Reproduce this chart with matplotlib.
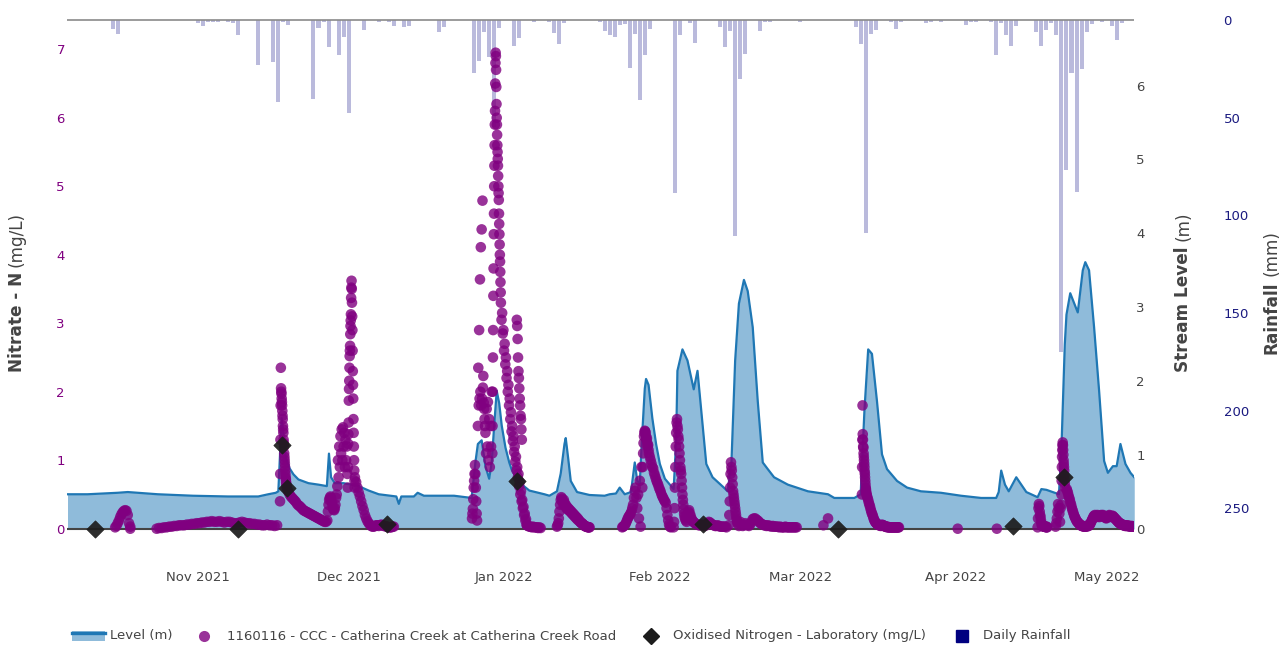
import matplotlib
matplotlib.use("Agg")
import matplotlib.pyplot as plt
import matplotlib.dates as mdates
import matplotlib.ticker as mticker
import numpy as np
import pandas as pd
from matplotlib.lines import Line2D
from matplotlib.patches import Rectangle

plt.rcParams['font.family'] = ['DejaVu Sans']

# ---------------- data ----------------
level_times = [
    "2021-10-06 00:00", "2021-10-10 00:00", "2021-10-16 00:00", "2021-10-18 00:00", "2021-10-24 00:00",
    "2021-10-31 00:00", "2021-11-07 00:00", "2021-11-13 00:00", "2021-11-15 00:00", "2021-11-16 12:00",
    "2021-11-17 00:00", "2021-11-17 08:00", "2021-11-17 16:00", "2021-11-18 02:00", "2021-11-18 12:00",
    "2021-11-19 06:00", "2021-11-20 00:00", "2021-11-21 00:00", "2021-11-23 00:00", "2021-11-25 00:00",
    "2021-11-26 16:00", "2021-11-27 02:00", "2021-11-27 12:00", "2021-11-28 06:00", "2021-11-30 00:00",
    "2021-12-03 00:00", "2021-12-05 00:00", "2021-12-07 00:00", "2021-12-10 12:00", "2021-12-11 00:00",
    "2021-12-11 12:00", "2021-12-14 00:00", "2021-12-14 18:00", "2021-12-16 00:00", "2021-12-22 00:00",
    "2021-12-25 12:00", "2021-12-26 06:00", "2021-12-26 18:00", "2021-12-27 12:00", "2021-12-28 06:00",
    "2021-12-29 00:00", "2021-12-29 12:00", "2021-12-30 00:00", "2021-12-30 12:00", "2021-12-31 00:00",
    "2021-12-31 12:00", "2022-01-01 06:00", "2022-01-02 00:00", "2022-01-02 12:00", "2022-01-04 00:00",
    "2022-01-06 00:00", "2022-01-09 00:00", "2022-01-10 00:00", "2022-01-11 12:00", "2022-01-12 06:00",
    "2022-01-13 00:00", "2022-01-13 06:00", "2022-01-13 18:00", "2022-01-14 06:00", "2022-01-15 12:00",
    "2022-01-18 00:00", "2022-01-21 00:00", "2022-01-22 00:00", "2022-01-23 06:00", "2022-01-24 00:00",
    "2022-01-25 00:00", "2022-01-26 06:00", "2022-01-27 00:00", "2022-01-27 12:00", "2022-01-28 00:00",
    "2022-01-28 12:00", "2022-01-29 00:00", "2022-01-29 06:00", "2022-01-29 18:00", "2022-01-30 12:00",
    "2022-01-31 06:00", "2022-02-01 00:00", "2022-02-02 00:00", "2022-02-03 00:00", "2022-02-03 18:00",
    "2022-02-04 06:00", "2022-02-04 12:00", "2022-02-05 12:00", "2022-02-06 12:00", "2022-02-07 18:00",
    "2022-02-08 12:00", "2022-02-09 06:00", "2022-02-10 06:00", "2022-02-11 12:00", "2022-02-13 18:00",
    "2022-02-14 12:00", "2022-02-15 06:00", "2022-02-16 00:00", "2022-02-16 18:00", "2022-02-17 18:00",
    "2022-02-18 12:00", "2022-02-19 12:00", "2022-02-20 12:00", "2022-02-21 12:00", "2022-02-22 12:00",
    "2022-02-23 18:00", "2022-02-26 12:00", "2022-03-02 12:00", "2022-03-06 12:00", "2022-03-07 18:00",
    "2022-03-11 18:00", "2022-03-13 00:00", "2022-03-13 18:00", "2022-03-14 12:00", "2022-03-15 06:00",
    "2022-03-16 06:00", "2022-03-17 06:00", "2022-03-18 06:00", "2022-03-20 06:00", "2022-03-22 06:00",
    "2022-03-25 00:00", "2022-03-29 00:00", "2022-04-02 00:00", "2022-04-06 00:00", "2022-04-09 00:00",
    "2022-04-09 12:00", "2022-04-10 00:00", "2022-04-10 18:00", "2022-04-11 12:00", "2022-04-13 00:00",
    "2022-04-15 00:00", "2022-04-17 06:00", "2022-04-18 00:00", "2022-04-19 00:00", "2022-04-21 12:00",
    "2022-04-22 00:00", "2022-04-22 16:00", "2022-04-23 00:00", "2022-04-23 18:00", "2022-04-25 06:00",
    "2022-04-26 06:00", "2022-04-26 18:00", "2022-04-27 12:00", "2022-04-28 12:00", "2022-04-29 12:00",
    "2022-04-30 12:00", "2022-05-01 06:00", "2022-05-02 06:00", "2022-05-03 00:00", "2022-05-03 18:00",
    "2022-05-04 18:00", "2022-05-05 18:00", "2022-05-06 12:00",
]
level_m = [
    0.47, 0.47, 0.49, 0.50, 0.47,
    0.45, 0.44, 0.44, 0.47, 0.49,
    0.51, 1.00, 1.50, 1.25, 0.95,
    0.82, 0.74, 0.67, 0.62, 0.60,
    0.58, 1.02, 0.70, 0.62, 0.62,
    0.58, 0.52, 0.47, 0.44, 0.34,
    0.44, 0.44, 0.49, 0.45, 0.45,
    0.42, 0.90, 1.15, 1.20, 0.85,
    0.68, 0.90, 1.40, 1.87, 1.70,
    1.40, 1.10, 0.90, 0.80, 0.63,
    0.52, 0.47, 0.45, 0.51, 0.75,
    1.15, 1.23, 0.95, 0.65, 0.50,
    0.46, 0.45, 0.47, 0.48, 0.56,
    0.47, 0.50, 0.90, 0.65, 0.62,
    1.30, 1.90, 2.03, 1.95, 1.50,
    1.15, 0.88, 0.68, 0.60, 0.54,
    1.20, 2.14, 2.43, 2.28, 1.89,
    2.14, 1.60, 0.88, 0.70, 0.56,
    0.51, 0.88, 2.28, 3.05, 3.37,
    3.22, 2.73, 1.73, 0.90, 0.81,
    0.70, 0.60, 0.51, 0.47, 0.42,
    0.42, 0.47, 1.60, 2.43, 2.37,
    1.73, 1.01, 0.81, 0.65, 0.56,
    0.51, 0.49, 0.45, 0.42, 0.42,
    0.50, 0.79, 0.60, 0.51, 0.70,
    0.50, 0.43, 0.54, 0.53, 0.47,
    1.10, 2.50, 2.90, 3.19, 2.93,
    3.50, 3.61, 3.50, 2.73, 1.87,
    0.92, 0.76, 0.85, 0.85, 1.15,
    0.88, 0.76, 0.70,
]

rain_dates = [
    "2021-10-15", "2021-10-16", "2021-11-01", "2021-11-02", "2021-11-03", "2021-11-04", "2021-11-05",
    "2021-11-07", "2021-11-08", "2021-11-09", "2021-11-13", "2021-11-16", "2021-11-17", "2021-11-18",
    "2021-11-19", "2021-11-24", "2021-11-25", "2021-11-26", "2021-11-27", "2021-11-29", "2021-11-30",
    "2021-12-01", "2021-12-04", "2021-12-07", "2021-12-09", "2021-12-10", "2021-12-12", "2021-12-13",
    "2021-12-19", "2021-12-20", "2021-12-26", "2021-12-27", "2021-12-28", "2021-12-29", "2021-12-30",
    "2021-12-31", "2022-01-03", "2022-01-04", "2022-01-07", "2022-01-10", "2022-01-11", "2022-01-12",
    "2022-01-13", "2022-01-20", "2022-01-21", "2022-01-22", "2022-01-23", "2022-01-24", "2022-01-25",
    "2022-01-26", "2022-01-27", "2022-01-28", "2022-01-29", "2022-01-30", "2022-02-04", "2022-02-05",
    "2022-02-07", "2022-02-08", "2022-02-13", "2022-02-14", "2022-02-15", "2022-02-16", "2022-02-17",
    "2022-02-18", "2022-02-21", "2022-02-22", "2022-02-23", "2022-03-01", "2022-03-12", "2022-03-13",
    "2022-03-14", "2022-03-15", "2022-03-16", "2022-03-19", "2022-03-20", "2022-03-21", "2022-03-26",
    "2022-03-27", "2022-03-29", "2022-04-03", "2022-04-04", "2022-04-05", "2022-04-08", "2022-04-09",
    "2022-04-10", "2022-04-11", "2022-04-12", "2022-04-13", "2022-04-17", "2022-04-18", "2022-04-19",
    "2022-04-20", "2022-04-21", "2022-04-22", "2022-04-23", "2022-04-24", "2022-04-25", "2022-04-26",
    "2022-04-27", "2022-04-28", "2022-04-30", "2022-05-02", "2022-05-03", "2022-05-04",
]
rain_mm = [
    4.6, 7.3, 1.5, 3.2, 1.0, 1.0, 1.0,
    1.0, 1.5, 7.8, 23.0, 21.3, 41.9, 1.0,
    2.5, 40.5, 4.0, 1.0, 13.8, 18.0, 8.5,
    47.7, 5.0, 1.0, 1.0, 3.2, 3.8, 3.2,
    6.0, 3.8, 27.3, 20.8, 5.9, 18.7, 55.0,
    4.0, 13.4, 9.0, 1.0, 1.0, 6.7, 12.5,
    1.5, 1.0, 5.4, 7.8, 8.5, 2.5, 2.0,
    24.5, 7.1, 41.0, 18.0, 4.6, 88.6, 7.5,
    1.8, 11.8, 3.4, 13.6, 5.7, 110.7, 30.0,
    17.6, 5.5, 1.0, 1.0, 1.0, 3.7, 12.3,
    109.0, 7.1, 5.1, 1.0, 4.5, 1.0, 1.5,
    1.0, 1.0, 2.8, 1.0, 1.0, 1.0, 17.8,
    1.5, 7.5, 13.2, 3.0, 6.2, 13.2, 5.1,
    1.5, 7.7, 170.0, 77.0, 27.0, 88.0, 25.0,
    6.2, 2.0, 1.0, 3.0, 10.4, 1.5,
]

lab_times = ["2021-10-11 12:00", "2021-11-08 22:00", "2021-11-17 17:00", "2021-11-18 17:00",
             "2021-12-08 15:00", "2022-01-03 12:00", "2022-02-09 12:00", "2022-03-08 12:00",
             "2022-04-12 10:00", "2022-04-22 10:00"]
lab_mgL = [0.0, 0.0, 1.22, 0.59, 0.07, 0.69, 0.07, 0.0, 0.04, 0.75]

# sensor nitrate readings: (first timestamp, hours between readings, readings)
nitrate_segments = [
    ("2021-10-15 12:00", 6, [0.02, 0.04, 0.08, 0.12, 0.17, 0.21, 0.24, 0.26, 0.27, 0.26, 0.20, 0.08, 0.03]),
    ("2021-10-18 12:00", 6, [0.0]),
    ("2021-10-23 18:00", 12, [0.00, 0.01, 0.01, 0.02, 0.02, 0.03, 0.03, 0.04, 0.04, 0.05,
                              0.05, 0.05, 0.06, 0.06, 0.07, 0.07, 0.08, 0.08, 0.09, 0.09,
                              0.10, 0.10, 0.11, 0.10, 0.10, 0.11, 0.10, 0.09, 0.10, 0.10,
                              0.09, 0.08, 0.08, 0.09, 0.10, 0.09, 0.08, 0.08, 0.07, 0.07,
                              0.06, 0.06, 0.05, 0.05, 0.06, 0.05, 0.05, 0.04, 0.05]),
    ("2021-11-17 08:00", 1, [0.40, 0.80, 1.30, 1.80, 2.35, 2.05, 2.00, 1.97, 1.90, 1.85, 1.80, 1.72,
                             1.65, 1.60, 1.50, 1.45, 1.40, 1.30, 1.25, 1.20, 1.10, 1.05, 1.00, 0.95,
                             0.90, 0.85, 0.80, 0.75, 0.72, 0.68, 0.65, 0.62]),
    ("2021-11-18 18:00", 6, [0.58, 0.54, 0.50, 0.47, 0.45, 0.43, 0.41, 0.39, 0.36, 0.34, 0.33, 0.31,
                             0.29, 0.27, 0.26, 0.25, 0.24, 0.23, 0.22, 0.21, 0.20, 0.19, 0.18, 0.17,
                             0.16, 0.15, 0.14, 0.13, 0.12, 0.11, 0.10, 0.10]),
    ("2021-11-26 18:00", 3, [0.12, 0.25, 0.35, 0.42, 0.45, 0.47, 0.45, 0.40, 0.35, 0.30, 0.28, 0.27,
                             0.30, 0.35, 0.45, 0.50, 0.62, 1.00, 0.75, 1.20, 0.90, 1.35, 1.10, 1.45,
                             1.00, 1.48, 1.20, 1.40, 0.90, 1.30, 1.00, 1.20, 0.80]),
    ("2021-11-30 20:00", 1, [0.60, 0.90, 1.24, 1.38, 1.55, 1.87, 2.04, 2.16, 2.35, 2.52, 2.60, 2.67,
                             2.84, 2.96, 3.04, 3.13, 3.37, 3.52, 3.62, 3.50, 3.30, 3.10, 2.90, 2.60,
                             2.30, 2.10, 1.90, 1.60, 1.40, 1.20, 1.00, 0.85, 0.70, 0.60]),
    ("2021-12-02 06:00", 6, [0.75, 0.68, 0.60, 0.53, 0.47, 0.40, 0.33, 0.27, 0.20, 0.15, 0.11, 0.08,
                             0.06, 0.04, 0.03, 0.03, 0.04, 0.05, 0.05, 0.04, 0.05, 0.06, 0.05, 0.04,
                             0.04, 0.03, 0.03, 0.02, 0.02, 0.02, 0.03, 0.03]),
    ("2021-12-25 14:00", 2, [0.15, 0.22, 0.29, 0.43, 0.60, 0.70, 0.80, 0.93, 0.80, 0.60, 0.40, 0.22, 0.12]),
    ("2021-12-26 18:00", 2, [1.50, 2.35, 1.80, 2.90, 1.90, 3.64, 2.00, 4.11, 1.80, 4.37, 1.90, 4.79,
                             2.06, 2.23, 1.84, 1.75, 1.60, 1.50]),
    ("2021-12-28 06:00", 3, [1.40, 1.10, 1.75, 1.20, 1.85, 1.00, 1.60, 0.90, 1.50, 1.20, 2.00, 1.10]),
    ("2021-12-29 16:00", 1, [1.50, 2.00, 2.50, 2.90, 3.40, 3.80, 4.30, 4.60, 5.00, 5.30, 5.60, 5.90,
                             6.10, 6.50, 6.80, 6.95, 6.90, 6.70, 6.45, 6.20, 6.00, 5.90, 5.75, 5.60,
                             5.50, 5.40, 5.30, 5.15, 5.00, 4.90, 4.80, 4.60, 4.45, 4.30, 4.15, 4.00,
                             3.90, 3.75, 3.60, 3.45]),
    ("2021-12-31 08:00", 3, [3.30, 3.05, 3.15, 2.85, 2.90, 2.60, 2.70, 2.40, 2.50, 2.20, 2.30, 2.00,
                             2.10, 1.80, 1.90, 1.60, 1.70, 1.42, 1.50, 1.28, 1.35, 1.12, 1.20, 0.98,
                             1.05, 0.85, 0.90, 0.75, 0.80, 0.62, 0.68, 0.50, 0.55, 0.40, 0.42, 0.30,
                             0.32, 0.20, 0.22, 0.12, 0.14, 0.06, 0.05]),
    ("2022-01-03 12:00", 2, [3.05, 2.96, 2.77, 2.50, 2.30, 2.20, 2.05, 1.90, 1.80, 1.65, 1.60, 1.45, 1.30]),
    ("2022-01-05 12:00", 6, [0.05, 0.04, 0.03, 0.03, 0.02, 0.03, 0.02, 0.02, 0.02, 0.01, 0.02, 0.01]),
    ("2022-01-11 12:00", 3, [0.03, 0.05, 0.08, 0.15, 0.25, 0.35, 0.42, 0.46, 0.44, 0.40, 0.36, 0.42,
                             0.38, 0.33, 0.35, 0.30, 0.32, 0.28, 0.30, 0.27, 0.28, 0.25, 0.26, 0.23,
                             0.24, 0.21, 0.22, 0.19, 0.20, 0.17, 0.18, 0.15, 0.16, 0.13, 0.14, 0.12,
                             0.11, 0.10, 0.09, 0.08, 0.08, 0.07, 0.06, 0.05, 0.04, 0.04, 0.03, 0.03,
                             0.03, 0.02, 0.02, 0.02, 0.02]),
    ("2022-01-24 12:00", 4, [0.02, 0.03, 0.04, 0.05, 0.07, 0.10, 0.13, 0.16, 0.18, 0.20, 0.22, 0.25,
                             0.30, 0.35, 0.45, 0.55, 0.60, 0.45, 0.30, 0.50, 0.15, 0.70, 0.03, 0.90]),
    ("2022-01-28 12:00", 2, [0.60, 0.90, 1.10, 1.25, 1.35, 1.40, 1.43, 1.42, 1.40, 1.35, 1.30, 1.32,
                             1.25, 1.20, 1.22, 1.15, 1.10]),
    ("2022-01-30 00:00", 4, [1.05, 1.00, 0.95, 0.90, 0.88, 0.82, 0.78, 0.74, 0.70, 0.67, 0.64, 0.60,
                             0.57, 0.54, 0.50, 0.47, 0.45, 0.42, 0.40, 0.38, 0.30, 0.20, 0.12, 0.06,
                             0.03, 0.02]),
    ("2022-02-03 18:00", 2, [0.02, 0.10, 0.30, 0.60, 0.90, 1.20, 1.40, 1.55, 1.60, 1.50, 1.45, 1.35,
                             1.30, 1.20, 1.10, 1.00, 0.90, 0.85, 0.80, 0.70, 0.60, 0.50, 0.42, 0.35,
                             0.28, 0.22, 0.18, 0.15]),
    ("2022-02-06 04:00", 4, [0.12, 0.10, 0.20, 0.25, 0.27, 0.22, 0.18, 0.14, 0.12, 0.10, 0.09, 0.08, 0.07]),
    ("2022-02-08 12:00", 6, [0.06, 0.05, 0.05, 0.06, 0.05, 0.05, 0.04, 0.06, 0.08, 0.10, 0.09, 0.07,
                             0.06, 0.05, 0.04, 0.04, 0.05, 0.04, 0.03, 0.03, 0.03, 0.03, 0.03, 0.02]),
    ("2022-02-14 18:00", 2, [0.05, 0.20, 0.40, 0.60, 0.80, 0.97, 0.90, 0.85, 0.75, 0.65, 0.55, 0.50,
                             0.45, 0.40, 0.35, 0.30, 0.25, 0.20, 0.15, 0.12, 0.10]),
    ("2022-02-16 12:00", 6, [0.08, 0.04, 0.10, 0.06, 0.04, 0.05, 0.08, 0.06, 0.05, 0.04, 0.06, 0.10,
                             0.14, 0.15, 0.15, 0.13, 0.12, 0.10, 0.08, 0.07, 0.06, 0.05, 0.05, 0.04,
                             0.05, 0.04, 0.04, 0.03, 0.04, 0.03, 0.03, 0.03, 0.03, 0.02, 0.03, 0.02,
                             0.02, 0.02, 0.03, 0.02, 0.02, 0.02, 0.02, 0.02, 0.02, 0.02, 0.02, 0.02]),
    ("2022-03-05 14:00", 22, [0.05, 0.15]),
    ("2022-03-13 06:00", 1, [0.50, 0.90, 1.30, 1.80, 1.38, 1.30, 1.20, 1.18, 1.10, 1.05, 1.00, 0.95,
                             0.90, 0.84, 0.80, 0.75, 0.70, 0.65, 0.60, 0.58, 0.55, 0.52, 0.50]),
    ("2022-03-14 06:00", 3, [0.48, 0.45, 0.42, 0.38, 0.35, 0.32, 0.28, 0.25, 0.22, 0.20, 0.17, 0.14,
                             0.12, 0.10, 0.09, 0.08, 0.07, 0.06, 0.06, 0.05, 0.05, 0.05, 0.04, 0.05,
                             0.06, 0.05, 0.05, 0.04, 0.04, 0.03, 0.03, 0.03, 0.02, 0.03, 0.02, 0.02,
                             0.02, 0.02, 0.02, 0.02, 0.02, 0.02, 0.02, 0.02, 0.02, 0.02, 0.02, 0.02,
                             0.02, 0.02, 0.02, 0.02]),
    ("2022-04-01 08:00", 6, [0.0]),
    ("2022-04-09 03:00", 6, [0.0]),
    ("2022-04-17 06:00", 2, [0.02, 0.15, 0.30, 0.36, 0.33, 0.25, 0.20, 0.17, 0.12, 0.08, 0.05, 0.04,
                             0.05, 0.04, 0.03, 0.03, 0.04, 0.03, 0.03, 0.03, 0.02, 0.02, 0.03, 0.02]),
    ("2022-04-20 20:00", 3, [0.03, 0.08, 0.15, 0.25, 0.36, 0.30, 0.22, 0.10, 0.30, 0.35]),
    ("2022-04-22 00:00", 1, [0.50, 0.70, 0.90, 1.05, 1.15, 1.22, 1.26, 1.22, 1.15, 1.08, 1.00, 0.95,
                             0.90, 0.85, 0.78, 0.72, 0.66, 0.60]),
    ("2022-04-23 01:00", 3, [0.58, 0.55, 0.52, 0.48, 0.45, 0.42, 0.38, 0.35, 0.31, 0.28, 0.25, 0.22,
                             0.19, 0.17, 0.15, 0.13, 0.11, 0.10, 0.09, 0.08, 0.07, 0.06, 0.05, 0.05,
                             0.04, 0.04, 0.04, 0.03, 0.03, 0.03, 0.03, 0.04, 0.03, 0.04, 0.05, 0.04,
                             0.05, 0.06, 0.08, 0.10, 0.12, 0.14, 0.16, 0.18, 0.19, 0.20, 0.18, 0.17,
                             0.19, 0.20, 0.19, 0.18, 0.17, 0.18, 0.19, 0.20, 0.19, 0.18, 0.20, 0.19,
                             0.17, 0.18, 0.16, 0.15, 0.16, 0.17, 0.18, 0.19, 0.20, 0.19, 0.18, 0.17,
                             0.18, 0.19, 0.18, 0.17, 0.16, 0.15, 0.14, 0.13, 0.12, 0.11, 0.10, 0.09,
                             0.08, 0.08, 0.07, 0.07, 0.06, 0.06, 0.05, 0.05, 0.05, 0.04, 0.05, 0.04,
                             0.04, 0.05, 0.04, 0.04, 0.03, 0.04, 0.03, 0.03, 0.04, 0.03, 0.03, 0.03,
                             0.03]),
]

month_labels = ["Nov 2021", "Dec 2021", "Jan 2022", "Feb 2022", "Mar 2022", "Apr 2022", "May 2022"]
month_ticks = ["2021-11-01", "2021-12-01", "2022-01-01", "2022-02-01", "2022-03-01", "2022-04-01", "2022-05-01"]

# ---------------- figure ----------------
W, H = 1286, 646
fig = plt.figure(figsize=(W / 100, H / 100), dpi=100)
L, R, T, B = 67, 1134, 19, 565
rect = [L / W, 1 - B / H, (R - L) / W, (B - T) / H]

ax_r = fig.add_axes(rect)   # rainfall (bottom layer)
ax_l = fig.add_axes(rect)   # level
ax_n = fig.add_axes(rect)   # nitrate (top layer)
for a in (ax_l, ax_n):
    a.patch.set_visible(False)
for a in (ax_r, ax_l, ax_n):
    for s in a.spines.values():
        s.set_visible(False)

x0 = pd.Timestamp("2021-10-05 21:36")
x1 = pd.Timestamp("2022-05-06 10:50")
for a in (ax_r, ax_l, ax_n):
    a.set_xlim(x0, x1)

# rainfall
rd = pd.to_datetime(rain_dates)
ax_r.bar(rd, rain_mm, width=0.8, color="#000080", alpha=0.27, linewidth=0)
ax_r.set_ylim(279, -0.5)
ax_r.axhline(0, color="#8a8a8a", lw=1.2)
ax_r.yaxis.tick_right()
ax_r.spines['right'].set_position(('outward', 62.5))
ax_r.set_yticks([0, 50, 100, 150, 200, 250])
ax_r.tick_params(axis='y', length=0, pad=2, labelsize=9.5, labelcolor="#1a1a80")
ax_r.set_xticks([])

# level
lt = pd.to_datetime(level_times)
ax_l.fill_between(lt, 0, level_m, color="#8fbbda", linewidth=0, zorder=1)
ax_l.plot(lt, level_m, color="#1f77b4", lw=1.6, zorder=2)
ax_l.axhline(0, color="#444444", lw=1.5, zorder=3)
ax_l.set_ylim(-0.487, 6.90)
ax_l.yaxis.tick_right()
ax_l.set_yticks([0, 1, 2, 3, 4, 5, 6])
ax_l.tick_params(axis='y', length=0, pad=1.5, labelsize=9.5, labelcolor="#444444")
ax_l.set_xticks([])

# nitrate sensor
nt, nv = [], []
for start, step, vals in nitrate_segments:
    ts = pd.Timestamp(start) + pd.to_timedelta(np.arange(len(vals)) * step, unit="h")
    nt.extend(ts)
    nv.extend(vals)
ax_n.scatter(nt, nv, s=58, color="#800080", alpha=0.8, edgecolors="none", zorder=3)
ax_n.scatter(pd.to_datetime(lab_times), lab_mgL, s=78, marker="D", color="#1c1c1c",
             alpha=0.92, edgecolors="#1c1c1c", linewidths=0.5, zorder=4)
ax_n.set_ylim(-0.53, 7.442)
ax_n.set_yticks([0, 1, 2, 3, 4, 5, 6, 7])
ax_n.tick_params(axis='y', length=0, pad=1.5, labelsize=9.5, labelcolor="#800080")
ax_n.set_xticks(pd.to_datetime(month_ticks))
ax_n.set_xticklabels(month_labels)
ax_n.tick_params(axis='x', length=0, pad=4, labelsize=9.5, labelcolor="#444444")

# ---------------- axis titles (bold + normal parts) ----------------
fig.canvas.draw()
renderer = fig.canvas.get_renderer()

def vtitle(x_base_px, yc_px, bold, normal, size=12.2):
    t1 = fig.text(0, 0, bold, fontsize=size, fontweight="bold", rotation=90,
                  rotation_mode="anchor", ha="left", va="baseline", color="#444444")
    t2 = fig.text(0, 0, normal, fontsize=size, rotation=90,
                  rotation_mode="anchor", ha="left", va="baseline", color="#444444")
    h1 = t1.get_window_extent(renderer).height
    h2 = t2.get_window_extent(renderer).height
    gap = 0.32 * size * 100 / 72
    total = h1 + gap + h2
    ybot = (H - yc_px) - total / 2  # pixel from bottom
    t1.set_position((x_base_px / W, ybot / H))
    t2.set_position((x_base_px / W, (ybot + h1 + gap) / H))

vtitle(21.5, 292, "Nitrate - N", "(mg/L)")
vtitle(1188, 292, "Stream Level", "(m)")
vtitle(1276.5, 292, "Rainfall", "(mm)")

# ---------------- legend ----------------
def fx(x):
    return x / W

def fy(y):
    return 1 - y / H

ly = 636
fig.add_artist(Rectangle((fx(72), fy(641)), 33 / W, 10 / H, transform=fig.transFigure,
                         facecolor="#8fbbda", edgecolor="none"))
fig.add_artist(Line2D([fx(72), fx(105)], [fy(632.5), fy(632.5)], transform=fig.transFigure,
                      color="#1f77b4", lw=2.4))
fig.text(fx(110), fy(ly), "Level (m)", fontsize=9.5, color="#444444", ha="left", va="center")
fig.add_artist(Line2D([fx(204)], [fy(ly)], transform=fig.transFigure, marker="o", ms=8,
                      color="#800080", alpha=0.8, mec="none", lw=0))
fig.text(fx(227), fy(ly), "1160116 - CCC - Catherina Creek at Catherina Creek Road",
         fontsize=9.5, color="#444444", ha="left", va="center")
fig.add_artist(Line2D([fx(651)], [fy(ly)], transform=fig.transFigure, marker="D", ms=8.5,
                      color="#1c1c1c", mec="#1c1c1c", lw=0))
fig.text(fx(673), fy(ly), "Oxidised Nitrogen - Laboratory (mg/L)",
         fontsize=9.5, color="#444444", ha="left", va="center")
fig.add_artist(Line2D([fx(962)], [fy(ly)], transform=fig.transFigure, marker="s", ms=8,
                      color="#000080", mec="#000080", lw=0))
fig.text(fx(983), fy(ly), "Daily Rainfall", fontsize=9.5, color="#444444", ha="left", va="center")

fig.savefig("out.png", dpi=100)
